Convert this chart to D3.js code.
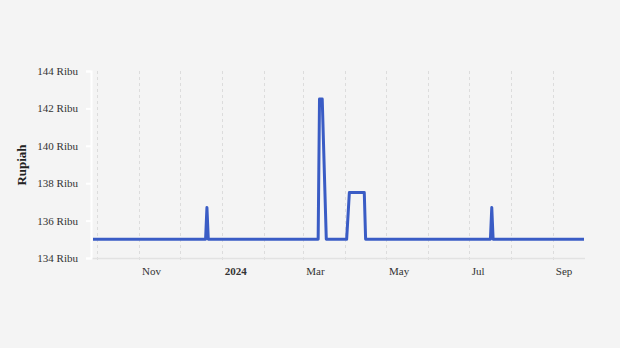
<!DOCTYPE html>
<html><head><meta charset="utf-8">
<script src="https://cdn.jsdelivr.net/npm/d3@7"></script>
<style>html,body{margin:0;padding:0;background:#f4f4f4;}svg{display:block;}</style>
</head><body>
<svg id="c" width="620" height="348"></svg>
<script>
const dates = ["2023-09-28","2023-12-20","2023-12-21","2023-12-22","2024-03-12","2024-03-13","2024-03-15","2024-03-18","2024-04-02","2024-04-04","2024-04-15","2024-04-16","2024-07-17","2024-07-18","2024-07-19","2024-09-24"];
const prices = [135000,135000,136700,135000,135000,142500,142500,135000,135000,137500,137500,135000,135000,136700,135000,135000];
const yTicks = [134000,136000,138000,140000,142000,144000];
const yTickLabels = ["134 Ribu","136 Ribu","138 Ribu","140 Ribu","142 Ribu","144 Ribu"];
const xLabelDates = ["2023-11-01","2024-01-01","2024-03-01","2024-05-01","2024-07-01","2024-09-01"];
const xLabels = ["Nov","2024","Mar","May","Jul","Sep"];
const yTitle = "Rupiah";

const parse = d3.utcParse("%Y-%m-%d");
const data = dates.map((d,i)=>({date:parse(d), v:prices[i]}));
const svg = d3.select("#c");
const font = "'Liberation Serif','Times New Roman',serif";

const x = d3.scaleUtc().domain([parse("2023-09-28"), parse("2024-09-24")]).range([93, 584]);
const y = d3.scaleLinear().domain([134000,144000]).range([258, 71]);

// month gridlines
const months = d3.utcMonth.range(parse("2023-10-01"), parse("2024-09-24"));
svg.append("g").selectAll("line").data(months).join("line")
  .attr("x1",d=>Math.round(x(d))+0.5).attr("x2",d=>Math.round(x(d))+0.5).attr("y1",71).attr("y2",262)
  .attr("stroke","#dcdcdc").attr("stroke-width",1).attr("stroke-dasharray","3,3");

// bottom axis line
svg.append("line").attr("x1",92).attr("x2",585).attr("y1",258.5).attr("y2",258.5)
  .attr("stroke","#e2e2e2").attr("stroke-width",1.5);

// left axis (white)
const yAxis = d3.axisLeft(y).tickValues(yTicks).tickSize(5).tickFormat((d,i)=>yTickLabels[i]);
const gy = svg.append("g").attr("transform","translate(91,0)").call(yAxis);
gy.select(".domain").attr("stroke","#ffffff").attr("stroke-width",2);
gy.selectAll(".tick line").attr("stroke","#ffffff").attr("stroke-width",2);
gy.selectAll(".tick text").attr("x",-13).attr("fill","#333").style("font-family",font).style("font-size","11px");

// x labels
svg.append("g").selectAll("text").data(xLabelDates).join("text")
  .attr("x",d=>x(parse(d))+3).attr("y",275)
  .text((d,i)=>xLabels[i])
  .attr("fill","#333").style("font-family",font).style("font-size","11px")
  .style("font-weight",(d,i)=>xLabels[i]==="2024"?"bold":"normal");

// y title
svg.append("text").attr("transform","translate(26,165) rotate(-90)").attr("text-anchor","middle")
  .text(yTitle).attr("fill","#222").style("font-family",font).style("font-size","13px").style("font-weight","bold");

// line
const line = d3.line().x(d=>x(d.date)).y(d=>y(d.v));
svg.append("path").datum(data).attr("d",line).attr("fill","none")
  .attr("stroke","#3a5cc5").attr("stroke-width",3).attr("stroke-linejoin","round");
</script>
</body></html>
